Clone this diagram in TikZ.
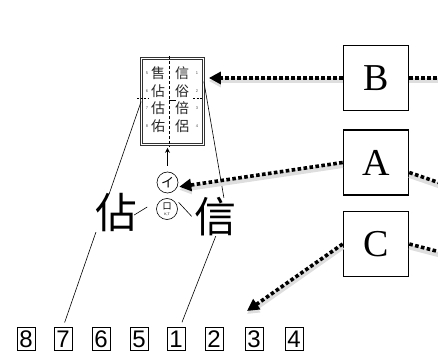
\documentclass[tikz,border=0pt]{standalone}
\usepackage{fontspec}
\usepackage{xcolor}
\usetikzlibrary{arrows.meta}
\setmainfont{Liberation Serif}
\newfontfamily\cjkfont{Noto Sans CJK TC}
\newfontfamily\digitfont{Liberation Sans}

\begin{document}
\begin{tikzpicture}[x=1pt,y=-1pt,
    letterbox/.style={draw, line width=1.6pt, fill=white, minimum width=65pt, minimum height=65pt, inner sep=0pt, font=\fontsize{38}{40}\selectfont},
    numbox/.style={draw, line width=0.6pt, minimum width=18pt, minimum height=23pt, inner sep=0pt, font=\digitfont\fontsize{24}{24}\selectfont},
    cardchar/.style={inner sep=0pt, text=black!85, font=\cjkfont\fontsize{14}{14}\selectfont},
    carddigit/.style={inner sep=0pt, text=black!70, font=\digitfont\fontsize{4}{4}\selectfont},
    bigchar/.style={inner sep=0pt, fill=white, font=\cjkfont\fontsize{42}{42}\selectfont},
    ringchar/.style={draw, circle, line width=0.6pt, minimum size=21pt, inner sep=0pt},
    thinline/.style={line width=0.6pt},
    dotline/.style={line width=3.6pt, dash pattern=on 3.6pt off 2.4pt,
        preaction={draw=black!13, solid, line width=5pt, transform canvas={yshift=-3pt}}},
    dotarrow/.style={dotline, -{Triangle[length=12pt,width=12pt]}}
]
    \useasboundingbox (0,0) rectangle (438,352);

    \node[draw=black!80, line width=0.7pt, double, double distance=1.4pt, minimum width=62pt, minimum height=86pt, inner sep=0pt] (card) at (172.5,101.5) {};
    \draw[line width=0.5pt, dash pattern=on 3pt off 2pt] ([xshift=-3pt,yshift=2pt]card.north) -- ([xshift=-3pt,yshift=-2pt]card.south);
    \draw[line width=0.5pt, dash pattern=on 2pt off 1.5pt] (137,98) -- (148,98);
    \draw[line width=0.5pt, dash pattern=on 2pt off 1.5pt] (193,98) -- (203,98);
    \draw[line width=0.6pt] (169,100) -- (176,100);

    \node[cardchar] (cl1) at (158,73) {售};
    \node[cardchar] (cl2) at (158,91) {佔};
    \node[cardchar] (cl3) at (158,108) {估};
    \node[cardchar] (cl4) at (158,126) {佑};
    \node[cardchar] (cr1) at (182,73) {信};
    \node[cardchar] (cr2) at (182,91) {俗};
    \node[cardchar] (cr3) at (182,108) {倍};
    \node[cardchar] (cr4) at (182,126) {侶};
    \node[carddigit] (dl1) at (147,73) {5};
    \node[carddigit] (dl2) at (147,91) {6};
    \node[carddigit] (dl3) at (147,108) {7};
    \node[carddigit] (dl4) at (147,126) {8};
    \node[carddigit] (dr1) at (197,73) {1};
    \node[carddigit] (dr2) at (197,91) {2};
    \node[carddigit] (dr3) at (197,108) {3};
    \node[carddigit] (dr4) at (197,126) {4};

    \node[numbox] (n8) at (26,339) {8};
    \node[numbox] (n7) at (63,339) {7};
    \node[numbox] (n6) at (101,339) {6};
    \node[numbox] (n5) at (139,339) {5};
    \node[numbox] (n1) at (176,339) {1};
    \node[numbox] (n2) at (214,339) {2};
    \node[numbox] (n3) at (254,339) {3};
    \node[numbox] (n4) at (294,339) {4};

    \coordinate (bend) at (226,210);
    \draw[thinline, shorten >=5pt] (card.west) -- (n7.north);
    \draw[thinline] ([yshift=20pt]card.east) -- (bend) -- ([xshift=6pt,yshift=5pt]n1.north);

    \node[bigchar] (zhan) at (116,213) {佔};
    \node[bigchar] (xin) at (215,217) {信};

    \node[ringchar, font=\cjkfont\fontsize{13}{13}\selectfont] (ki) at (167.5,182.5) {イ};
    \node[ringchar, align=center, font=\cjkfont\fontsize{9}{9}\selectfont] (kou) at (167,209) {口\\[-3pt]{\digitfont\fontsize{3.5}{3.5}\selectfont K,T}};
    \draw[line width=0.8pt, -{Stealth[length=5pt,width=5pt]}, shorten <=6pt, shorten >=3pt] (ki.north) -- (ki.north |- card.south);
    \draw[thinline] (zhan.east) ++(-3,2) -- ++(13,-8);
    \draw[thinline] (kou.north east) ++(4,1) -- ++(13,14);

    \node[letterbox] (B) at (376,78) {B};
    \node[letterbox] (A) at (376,162.5) {A};
    \node[letterbox] (C) at (376,244) {C};

    \coordinate (bout) at (440,78);
    \coordinate (aout) at (440,183);
    \coordinate (cout) at (440,252);
    \coordinate (cend) at (247,311);
    \draw[dotarrow, shorten >=5pt] (B.west) -- (card.east |- B.west);
    \draw[dotarrow, shorten >=2pt] (A.west) -- (ki.-25);
    \draw[dotarrow] (C.west) -- (cend);
    \draw[dotline] (B.east) -- (bout);
    \draw[dotline] ([yshift=-10pt]A.east) -- (aout);
    \draw[dotline] (C.east) -- (cout);
\end{tikzpicture}
\end{document}
